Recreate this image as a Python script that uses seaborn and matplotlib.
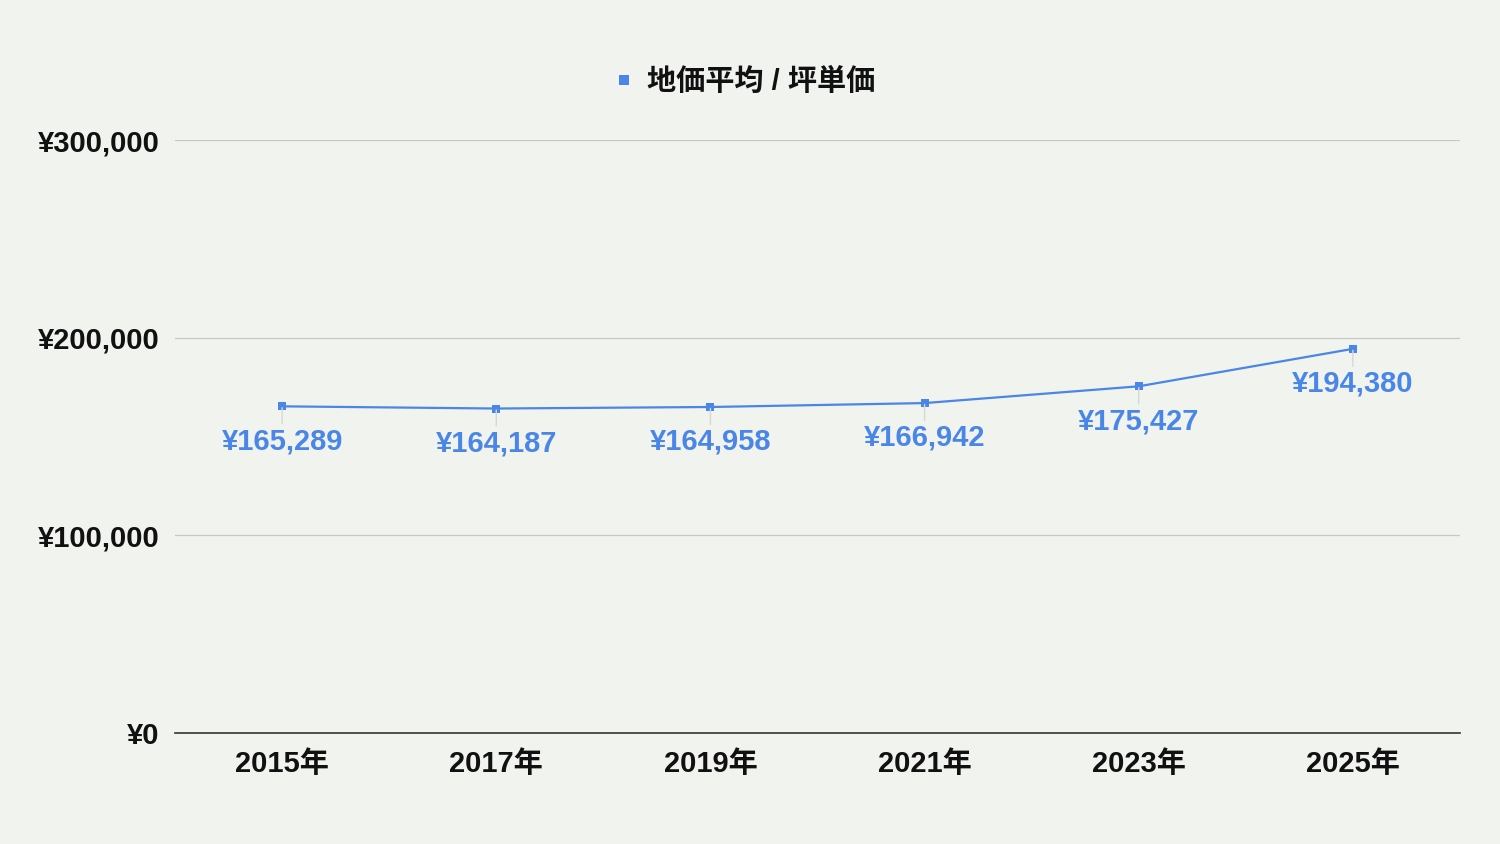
import pandas as pd
import seaborn as sns
import matplotlib.pyplot as plt
from matplotlib.ticker import FuncFormatter

# values
years = ['2015年', '2017年', '2019年', '2021年', '2023年', '2025年']
prices = [165289, 164187, 164958, 166942, 175427, 194380]
series_name = '地価平均 / 坪単価'

bg = '#f1f3ee'
blue = '#4a86e8'

sns.set_theme(style='white')
plt.rcParams['font.family'] = ['Liberation Sans', 'Noto Sans CJK JP', 'DejaVu Sans']
plt.rcParams['font.weight'] = 'bold'

df = pd.DataFrame({'year': years, 'price': prices})

fig = plt.figure(figsize=(15, 8.44), dpi=100, facecolor=bg)
ax = fig.add_axes([0.1167, 0.1315, 0.8566, 0.7025])
ax.set_facecolor(bg)

sns.lineplot(data=df, x='year', y='price', ax=ax, color=blue, linewidth=1.6,
             marker='s', markersize=6, markeredgewidth=0, label=series_name, sort=False)

# labels under each point with a faint leader line
for i, v in enumerate(prices):
    ax.annotate(f'¥{v:,}', xy=(i, v), xytext=(0, -25), textcoords='offset points',
                ha='center', va='center', fontsize=21, fontweight='bold', color=blue,
                arrowprops=dict(arrowstyle='-', color='#d6d8d0', lw=1, shrinkA=0, shrinkB=1))

ax.set_xlim(-0.5, 5.5)
ax.set_ylim(0, 300000)
ax.set_yticks([0, 100000, 200000, 300000])
ax.yaxis.set_major_formatter(FuncFormatter(lambda v, p: f'¥{int(v):,}'))
ax.grid(axis='y', color='#c8c8c4', linewidth=0.9)
ax.set_axisbelow(True)
for s in ['top', 'right', 'left']:
    ax.spines[s].set_visible(False)
ax.spines['bottom'].set_color('#333333')
ax.spines['bottom'].set_linewidth(1.2)
ax.tick_params(axis='y', length=0, labelsize=21, colors='#111111', pad=11)
ax.tick_params(axis='x', length=0, labelsize=21, colors='#111111', pad=12)
for lab in ax.get_xticklabels() + ax.get_yticklabels():
    lab.set_fontweight('bold')
ax.set_xlabel('')
ax.set_ylabel('')

ax.get_legend().remove()
handles, labels = ax.get_legend_handles_labels()
leg = fig.legend(handles, labels, loc='center', bbox_to_anchor=(0.497, 0.903), frameon=False,
                 handlelength=0.6, handletextpad=0.5, fontsize=21)
for h in leg.legend_handles:
    h.set_linestyle('')
    h.set_markersize(7)
for t in leg.get_texts():
    t.set_fontweight('bold')
    t.set_color('#111111')

fig.savefig('out.png', dpi=100, facecolor=bg)
